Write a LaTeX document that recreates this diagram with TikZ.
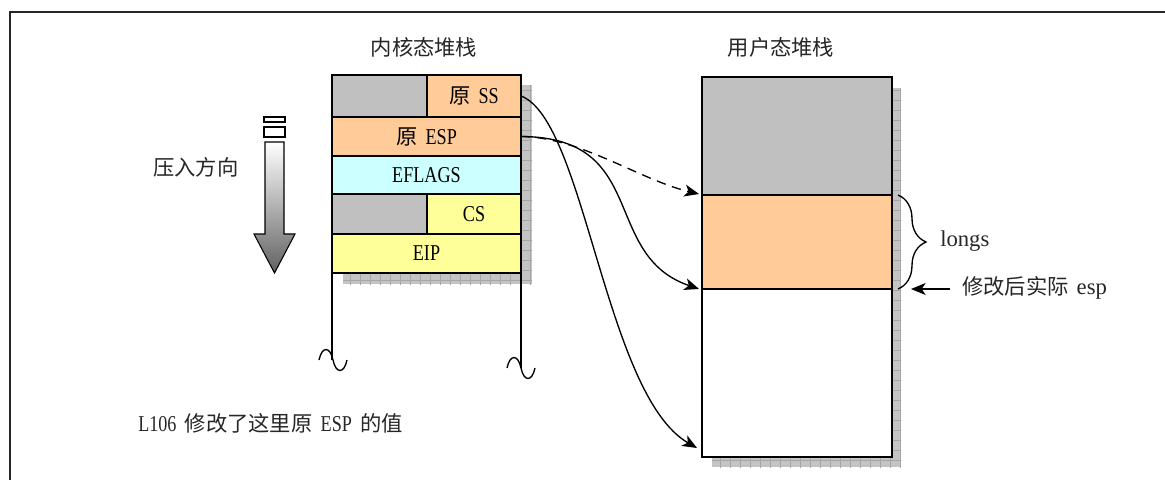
\documentclass[tikz,border=0pt]{standalone}
\usepackage{fontspec}
\setmainfont{Liberation Serif}[WordSpace=1.4]
\newfontfamily\capsf{Liberation Serif}[FakeStretch=0.8,WordSpace=1.8]
\newfontfamily\cjk{Noto Sans CJK SC}[Scale=0.94]
\usetikzlibrary{arrows.meta,decorations.pathreplacing,calc}
\definecolor{cgray}{HTML}{C0C0C0}
\definecolor{corange}{HTML}{FFCC99}
\definecolor{ccyan}{HTML}{CCFFFF}
\definecolor{cyellow}{HTML}{FFFF99}
\definecolor{cshadow}{HTML}{C4C4C4}
\begin{document}
\begin{tikzpicture}[x=0.75pt,y=-0.75pt,
  font=\fontsize{17pt}{20pt}\selectfont,
  cell/.style n args={2}{draw=black, line width=0.8pt, anchor=north west,
    inner sep=0pt, outer sep=0pt, minimum width=#1*0.75pt, minimum height=#2*0.75pt,
    font=\fontsize{17pt}{20pt}\selectfont\capsf},
  label/.style={inner sep=0pt, text=black!85},
  outline/.style={line width=1.3pt, black},
  conn/.style={line width=1pt, -{Stealth[length=11pt,width=9pt,inset=3pt]}},
  squig/.style={line width=1pt},
  shadowgrid/.style={draw=gray!70, line width=0.3pt}]
\useasboundingbox (0,0) rectangle (1165,479);
% frame
\draw[line width=1.5pt, black!85] (10,480) -- (10,12) -- (1166,12);
% shadows
\fill[cshadow] (343,85) rectangle (532,284);
\begin{scope}
  \clip (343,85) rectangle (532,284);
  \draw[shadowgrid, step=7.5pt] (330,70) grid (545,295);
\end{scope}
\fill[cshadow] (712,88) rectangle (901,467);
\begin{scope}
  \clip (712,88) rectangle (901,467);
  \draw[shadowgrid, step=7.5pt] (700,70) grid (915,480);
\end{scope}
% kernel stack
\node[cell={95}{42}, fill=cgray] (kg1) at (332,75) {};
\node[cell={94}{42}, fill=corange] (ss) at (427,75) {{\cjk 原} SS};
\node[cell={189}{39}, fill=corange] (esp) at (332,117) {{\cjk 原} ESP};
\node[cell={189}{38}, fill=ccyan] (eflags) at (332,156) {EFLAGS};
\node[cell={95}{40}, fill=cgray] (kg2) at (332,194) {};
\node[cell={94}{40}, fill=cyellow] (cs) at (427,194) {CS};
\node[cell={189}{39}, fill=cyellow] (eip) at (332,234) {EIP};
\draw[outline] (332,360) -- (kg1.north west) -- (ss.north east) -- (521,368);
\draw[squig] (319,360) .. controls (322,346) and (330,346) .. (333,360)
  .. controls (336,374) and (344,374) .. (347,360);
\draw[squig] (507,368) .. controls (510,354) and (518,354) .. (521,368)
  .. controls (524,382) and (532,382) .. (535,368);
% user stack
\node[cell={190}{118}, fill=cgray] (ug) at (702,77) {};
\node[cell={190}{94}, fill=corange] (uo) at (702,195) {};
\node[cell={190}{168}, fill=white] (uw) at (702,289) {};
\draw[outline] (ug.north west) rectangle (uw.south east);
% titles and labels
\node[label] (ktitle) at (424,47) {\cjk 内核态堆栈};
\node[label] (utitle) at (781,47) {\cjk 用户态堆栈};
\node[label, anchor=west] (push) at (153,167) {\cjk 压入方向};
\node[label, anchor=west] (note) at (138,423) {\capsf L106 {\cjk 修改了这里原} ESP {\cjk 的值}};
\node[label, anchor=west] (longs) at (940,241) {longs};
\node[label, anchor=west] (realesp) at (962,288) {{\cjk 修改后实际} esp};
% push direction arrow
\draw[line width=0.8pt, fill=white] (264,117) rectangle (285,122);
\draw[line width=0.8pt, fill=white] (264,127) rectangle (285,137);
\shade[top color=white, bottom color=black!62, draw=black, line width=0.8pt]
  (265,142) -- (284,142) -- (284,234) -- (295,234) -- (274.5,273)
  -- (254,234) -- (265,234) -- cycle;
% brace
\draw[line width=1pt, decorate, decoration={brace, amplitude=21pt}]
  (898,195) -- (898,289);
\coordinate (espfree) at (950,289);
\draw[conn] (espfree) -- (911,289);
% connectors
\coordinate (tipA) at ($(uw.south west)+(-5,-9)$);
\coordinate (tipB) at ($(uo.south west)+(-3,0)$);
\coordinate (tipC) at ($(uo.north west)+(-3,-1)$);
\draw[conn] (ss.east) .. controls (585,120) and (605,395) .. (tipA);
\draw[conn] (esp.east) .. controls (650,137) and (600,255) .. (tipB);
\draw[conn, dashed, dash pattern=on 7pt off 5pt] (esp.east) .. controls (580,137) and (640,180) .. (tipC);
\end{tikzpicture}
\end{document}
